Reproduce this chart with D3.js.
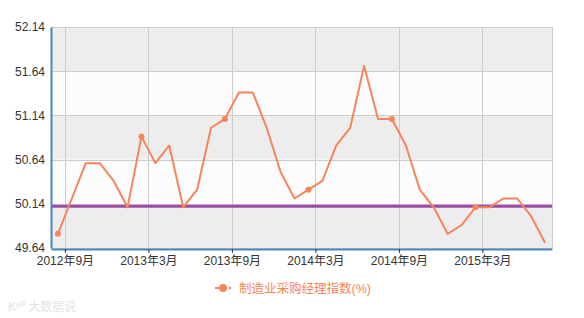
<!DOCTYPE html>
<html>
<head>
<meta charset="utf-8">
<script src="https://cdn.jsdelivr.net/npm/d3@7"></script>
<style>
  body { margin: 0; background: #fff; }
  text { font-family: "Liberation Sans", Arial, "Noto Sans CJK SC", sans-serif; }
</style>
</head>
<body>
<svg width="584" height="318"></svg>
<script>
// monthly PMI, 2012-09 .. 2015-08
var months = ["2012-09","2012-10","2012-11","2012-12","2013-01","2013-02","2013-03","2013-04","2013-05","2013-06","2013-07","2013-08",
              "2013-09","2013-10","2013-11","2013-12","2014-01","2014-02","2014-03","2014-04","2014-05","2014-06","2014-07","2014-08",
              "2014-09","2014-10","2014-11","2014-12","2015-01","2015-02","2015-03","2015-04","2015-05","2015-06","2015-07","2015-08"];
var pmi = [49.8, 50.2, 50.6, 50.6, 50.4, 50.1, 50.9, 50.6, 50.8, 50.1, 50.3, 51.0,
           51.1, 51.4, 51.4, 51.0, 50.5, 50.2, 50.3, 50.4, 50.8, 51.0, 51.7, 51.1,
           51.1, 50.8, 50.3, 50.1, 49.8, 49.9, 50.1, 50.1, 50.2, 50.2, 50.0, 49.7];
var yTicks = [49.64, 50.14, 50.64, 51.14, 51.64, 52.14];
var xTickIdx = [0, 6, 12, 18, 24, 30];
var xTickLabels = ["2012年9月", "2013年3月", "2013年9月", "2014年3月", "2014年9月", "2015年3月"];
var markLine = 50.1;
var seriesName = "制造业采购经理指数(%)";

var svg = d3.select("svg");
var plotLeft = 51, plotRight = 552, plotTop = 27, plotBottom = 248;
var orange = "#f7845a";

var x = d3.scaleLinear().domain([-0.5, pmi.length - 0.5]).range([plotLeft, plotRight]);
var y = d3.scaleLinear().domain([49.64, 52.14]).range([plotBottom, plotTop]);

// alternating bands
for (var i = 0; i < yTicks.length - 1; i++) {
    svg.append("rect")
        .attr("x", plotLeft).attr("width", plotRight - plotLeft)
        .attr("y", y(yTicks[i + 1])).attr("height", y(yTicks[i]) - y(yTicks[i + 1]))
        .attr("fill", i % 2 == 0 ? "#ededed" : "#fcfcfc");
}

// grid
svg.append("g").selectAll("line").data(yTicks).enter().append("line")
    .attr("x1", plotLeft).attr("x2", plotRight)
    .attr("y1", function (d) { return Math.round(y(d)) + 0.5; })
    .attr("y2", function (d) { return Math.round(y(d)) + 0.5; })
    .attr("stroke", function (d) { return d == 50.14 ? "#dcc3df" : "#cccccc"; });
svg.append("g").selectAll("line").data(xTickIdx).enter().append("line")
    .attr("x1", function (d) { return Math.round(x(d + 0.5)) + 0.5; })
    .attr("x2", function (d) { return Math.round(x(d + 0.5)) + 0.5; })
    .attr("y1", plotTop).attr("y2", plotBottom)
    .attr("stroke", "#cccccc");
svg.append("line")
    .attr("x1", plotRight + 0.5).attr("x2", plotRight + 0.5).attr("y1", plotTop).attr("y2", plotBottom)
    .attr("stroke", "#cccccc");

// mark line
svg.append("line")
    .attr("x1", plotLeft).attr("x2", plotRight)
    .attr("y1", y(markLine) - 1).attr("y2", y(markLine) - 1)
    .attr("stroke", "#9b4fa3").attr("stroke-width", 3);

// series
var line = d3.line()
    .x(function (d, i) { return x(i); })
    .y(function (d) { return y(d); });
svg.append("path").datum(pmi)
    .attr("d", line)
    .attr("fill", "none")
    .attr("stroke", orange)
    .attr("stroke-width", 2)
    .attr("stroke-linejoin", "round");
svg.append("g").selectAll("circle").data(xTickIdx).enter().append("circle")
    .attr("cx", function (d) { return x(d); })
    .attr("cy", function (d) { return y(pmi[d]); })
    .attr("r", 3)
    .attr("fill", orange);

// axes
var yaxis = svg.append("g")
    .attr("transform", "translate(" + plotLeft + ",0)")
    .call(d3.axisLeft(y).tickValues(yTicks).tickSize(0).tickPadding(6).tickFormat(d3.format(".2f")));
yaxis.select(".domain").attr("stroke", "#4a87c0").attr("stroke-width", 2);
yaxis.selectAll("text").attr("font-size", "12px").attr("fill", "#333").attr("font-family", "Liberation Sans, Arial, sans-serif");

var xaxis = svg.append("g")
    .attr("transform", "translate(0," + (plotBottom + 1) + ")")
    .call(d3.axisBottom(x).tickValues(xTickIdx.map(function (d) { return d + 0.5; }))
        .tickSize(4).tickSizeOuter(0).tickPadding(3)
        .tickFormat(function (d, i) { return xTickLabels[i]; }));
xaxis.select(".domain").attr("stroke", "#4a87c0").attr("stroke-width", 2);
xaxis.selectAll("line").attr("stroke", "#333");
xaxis.selectAll("text").attr("font-size", "12px").attr("fill", "#333");

// legend
var lg = svg.append("g").attr("transform", "translate(215,288)");
lg.append("line").attr("x1", 0).attr("x2", 16).attr("y1", 0).attr("y2", 0)
    .attr("stroke", orange).attr("stroke-width", 2).attr("stroke-dasharray", "4,3");
lg.append("circle").attr("cx", 8).attr("cy", 0).attr("r", 4).attr("fill", orange);
lg.append("text").attr("x", 24).attr("y", 4.5)
    .attr("font-size", "12.5px").attr("fill", orange).text(seriesName);

// faint watermark
svg.append("text").attr("x", 8).attr("y", 311)
    .attr("font-size", "12px").attr("fill", "#e4e4e4").text("K⁶⁰ 大数据说");
</script>
</body>
</html>
